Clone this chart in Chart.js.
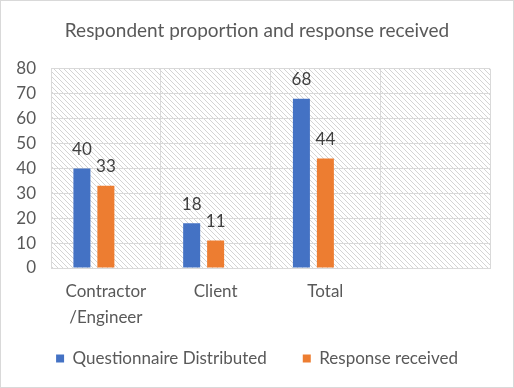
<!DOCTYPE html>
<html>
<head>
<meta charset="utf-8">
<script src="https://cdn.jsdelivr.net/npm/chart.js@4"></script>
<style>
  html, body { margin: 0; padding: 0; background: #fff; }
  #wrap { width: 512px; height: 386px; border: 1px solid #d9d9d9; }
</style>
</head>
<body>
<div id="wrap"><canvas id="chart" width="512" height="386"></canvas></div>
<script>
// Chart data
const categories = [['Contractor', '/Engineer'], 'Client', 'Total', ''];
const questionnaireDistributed = [40, 18, 68, null];
const responseReceived = [33, 11, 44, null];
const yTicks = [0, 10, 20, 30, 40, 50, 60, 70, 80];

const FONT = 'Lato, "Open Sans", sans-serif';

// Hatched background for the plot area
function makeHatch() {
    const c = document.createElement('canvas');
    c.width = 5;
    c.height = 5;
    const g = c.getContext('2d');
    g.fillStyle = '#ffffff';
    g.fillRect(0, 0, 5, 5);
    g.strokeStyle = '#d4d4d4';
    g.lineWidth = 1;
    g.beginPath();
    g.moveTo(-1, -1);
    g.lineTo(6, 6);
    g.moveTo(-1, 4);
    g.lineTo(1, 6);
    g.moveTo(4, -1);
    g.lineTo(6, 1);
    g.stroke();
    return g.createPattern(c, 'repeat');
}

const hatchPlugin = {
    id: 'hatch',
    beforeDraw(chart) {
        const a = chart.chartArea;
        const ctx = chart.ctx;
        ctx.save();
        ctx.fillStyle = makeHatch();
        ctx.fillRect(a.left, a.top, a.right - a.left, a.bottom - a.top);
        ctx.restore();
    }
};

// legend padding is big (item gap), pull the box top up so the row sits closer to the axis labels
const legendShift = {
    id: 'legendShift',
    afterLayout(chart) {
        chart.legend.top -= 27;
    }
};

// Value labels above the bars
const valueLabels = {
    id: 'valueLabels',
    afterDatasetsDraw(chart) {
        const ctx = chart.ctx;
        ctx.save();
        ctx.font = '17px ' + FONT;
        ctx.fillStyle = '#404040';
        ctx.textAlign = 'center';
        ctx.textBaseline = 'middle';
        chart.data.datasets.forEach((ds, i) => {
            if (i > 1) return;
            chart.getDatasetMeta(i).data.forEach((bar, j) => {
                const v = ds.data[j];
                if (v === null) return;
                ctx.fillText(v, bar.x, bar.y - 19);
            });
        });
        ctx.restore();
    }
};

new Chart(document.getElementById('chart'), {
    type: 'bar',
    data: {
        labels: categories,
        datasets: [
            {
                label: 'Questionnaire Distributed',
                data: questionnaireDistributed,
                backgroundColor: '#4472C4',
                categoryPercentage: 0.655,
                barPercentage: 0.71
            },
            {
                label: 'Response received',
                data: responseReceived,
                backgroundColor: '#ED7D31',
                categoryPercentage: 0.655,
                barPercentage: 0.71
            },
            {
                label: '',
                data: [null, null, null, null],
                backgroundColor: '#A5A5A5',
                categoryPercentage: 0.655,
                barPercentage: 0.71
            }
        ]
    },
    options: {
        responsive: false,
        animation: false,
        layout: {
            padding: { top: 0, left: 0, right: 0, bottom: 0 }
        },
        plugins: {
            title: {
                display: true,
                text: 'Respondent proportion and response received',
                color: '#595959',
                font: { family: FONT, size: 19, weight: 'normal' },
                padding: { top: 18, bottom: 27 }
            },
            legend: {
                position: 'bottom',
                maxHeight: 46,
                labels: {
                    filter: item => item.text !== '',
                    boxWidth: 8,
                    boxHeight: 8,
                    padding: 36,
                    color: '#595959',
                    font: { family: FONT, size: 17 }
                }
            },
            tooltip: { enabled: false }
        },
        scales: {
            x: {
                grid: { color: '#d9d9d9', lineWidth: 1, drawTicks: false },
                border: { color: '#d9d9d9' },
                ticks: {
                    color: '#595959',
                    font: { family: FONT, size: 17, lineHeight: 1.5 },
                    padding: 11,
                    maxRotation: 0,
                    autoSkip: false
                }
            },
            y: {
                min: 0,
                max: 80,
                afterBuildTicks: s => { s.ticks = yTicks.map(v => ({ value: v })); },
                afterFit: s => { s.width = 50; },
                grid: { color: '#d9d9d9', lineWidth: 1, drawTicks: false },
                border: { display: false },
                ticks: {
                    color: '#595959',
                    font: { family: FONT, size: 17 },
                    padding: 15
                }
            },
            // empty axis on the right, only to keep the plot off the right edge
            yRight: {
                position: 'right',
                afterFit: s => { s.width = 23; },
                grid: { display: false },
                border: { display: false },
                ticks: { display: false }
            }
        }
    },
    plugins: [hatchPlugin, legendShift, valueLabels]
});
</script>
</body>
</html>
